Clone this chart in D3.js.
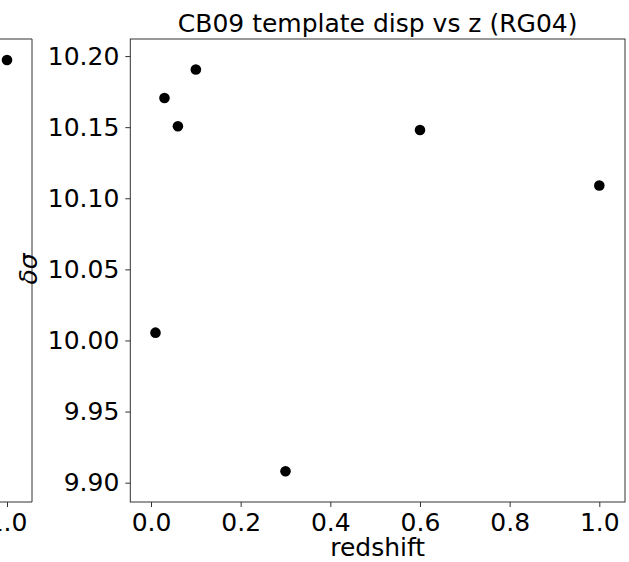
<!DOCTYPE html>
<html><head><meta charset="utf-8">
<script src="https://cdn.jsdelivr.net/npm/d3@7"></script>
<style>body{margin:0;background:#fff}svg{display:block}text{font-family:"DejaVu Sans",sans-serif;fill:#000}</style>
</head><body>
<script>
const redshift = [0.01, 0.03, 0.06, 0.10, 0.30, 0.60, 1.00];
const disp = [10.0055, 10.1705, 10.1506, 10.1906, 9.908, 10.148, 10.109];
const xTicks = [0.0, 0.2, 0.4, 0.6, 0.8, 1.0];
const yTicks = [9.90, 9.95, 10.00, 10.05, 10.10, 10.15, 10.20];
const title = "CB09 template disp vs z (RG04)";
const xLabel = "redshift";
const yLabel = "δσ";
// neighbouring (cut-off) panel
const prevX = [1.0];

const W = 629, H = 562;
const L = 130.3, R = 625, T = 39, B = 502;
const FS = "25px";
const svg = d3.select("body").append("svg").attr("width", W).attr("height", H);

const x = d3.scaleLinear().domain([-0.0462, 1.0573]).range([L, R]);
const y = d3.scaleLinear().domain([9.8864, 10.2120]).range([B, T]);

// neighbouring panel fragment
const px = d3.scaleLinear().domain([0.95, 1.0]).range([-47, 7]);
svg.append("path").attr("d", `M-5,${T}H32V${B}H-5`).attr("fill", "none").attr("stroke", "#333").attr("stroke-width", 1);
const pax = svg.append("g").attr("transform", `translate(0,${B})`)
  .call(d3.axisBottom(px).tickValues(prevX).tickFormat(d3.format(".1f")).tickSize(5).tickPadding(6));
pax.select(".domain").remove();
pax.selectAll("line").attr("stroke", "#333");
pax.selectAll("text").style("font-size", FS).style("font-family", "DejaVu Sans");
svg.selectAll(".pdot").data(prevX).enter().append("circle")
  .attr("cx", d => px(d)).attr("cy", 60).attr("r", 5.3).attr("fill", "#000");

// main frame
svg.append("rect").attr("x", L).attr("y", T).attr("width", R - L).attr("height", B - T)
  .attr("fill", "none").attr("stroke", "#333").attr("stroke-width", 1);

const xa = svg.append("g").attr("transform", `translate(0,${B})`)
  .call(d3.axisBottom(x).tickValues(xTicks).tickFormat(d3.format(".1f")).tickSize(5).tickPadding(6));
const ya = svg.append("g").attr("transform", `translate(${L},0)`)
  .call(d3.axisLeft(y).tickValues(yTicks).tickFormat(d3.format(".2f")).tickSize(5).tickPadding(6));
[xa, ya].forEach(a => {
  a.select(".domain").remove();
  a.selectAll("line").attr("stroke", "#333");
  a.selectAll("text").style("font-size", FS).style("font-family", "DejaVu Sans").attr("fill", "#000");
});

svg.selectAll(".dot").data(redshift).enter().append("circle")
  .attr("cx", d => x(d)).attr("cy", (d, i) => y(disp[i])).attr("r", 5.3).attr("fill", "#000");

svg.append("text").attr("x", (L + R) / 2).attr("y", 32).attr("text-anchor", "middle")
  .style("font-size", FS).text(title);
svg.append("text").attr("x", (L + R) / 2).attr("y", 556).attr("text-anchor", "middle")
  .style("font-size", FS).text(xLabel);
svg.append("text").attr("transform", "translate(37,269) rotate(-90)").attr("text-anchor", "middle")
  .style("font-size", FS).style("font-style", "italic").text(yLabel);
</script>
</body></html>
